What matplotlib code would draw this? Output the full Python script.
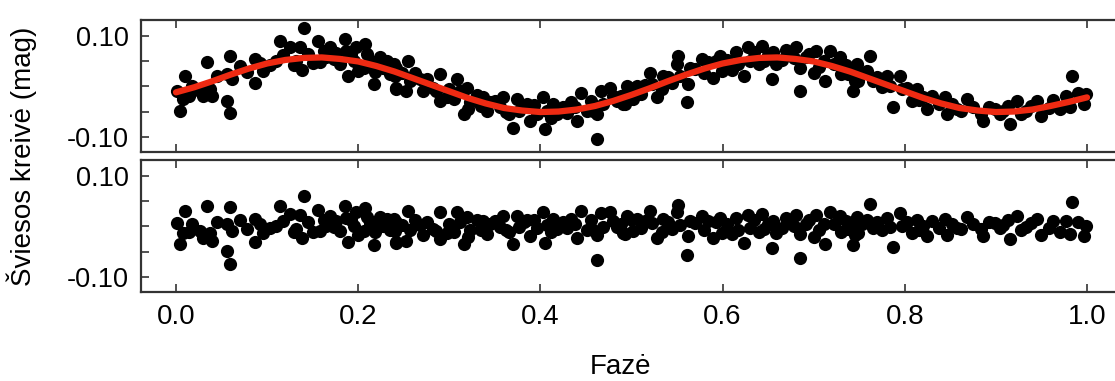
import matplotlib
matplotlib.use("Agg")
import matplotlib.pyplot as plt
from matplotlib import font_manager

# ---------------- data ----------------
phase = [0.001, 0.004, 0.010, 0.008, 0.014, 0.026, 0.034, 0.030, 0.039, 0.037,
         0.056, 0.059, 0.059, 0.056, 0.061, 0.087, 0.087, 0.096, 0.103, 0.110,
         0.114, 0.125, 0.129, 0.136, 0.140, 0.138, 0.132, 0.156, 0.158, 0.162,
         0.169, 0.165, 0.173, 0.186, 0.187, 0.189, 0.195, 0.198, 0.207, 0.206,
         0.213, 0.217, 0.224, 0.227, 0.235, 0.242, 0.242,
         0.239, 0.240, 0.242, 0.255, 0.257, 0.253, 0.268, 0.271, 0.282, 0.290,
         0.290, 0.297, 0.308, 0.312, 0.319, 0.316, 0.323, 0.321, 0.337, 0.341,
         0.345, 0.359, 0.356, 0.365, 0.374, 0.370, 0.377, 0.385, 0.389, 0.396,
         0.403, 0.407, 0.405, 0.414, 0.418, 0.429, 0.434, 0.440, 0.445, 0.451,
         0.462, 0.462, 0.467, 0.469, 0.476, 0.484, 0.495, 0.493,
         0.491, 0.498, 0.502, 0.506, 0.520, 0.522, 0.528, 0.535, 0.533, 0.550,
         0.551, 0.553, 0.561, 0.564, 0.562, 0.577, 0.580, 0.590, 0.593, 0.597,
         0.599, 0.615, 0.617, 0.624, 0.628, 0.630, 0.643, 0.645, 0.654, 0.655,
         0.659, 0.674, 0.681, 0.685, 0.685, 0.692, 0.700, 0.703, 0.711, 0.712,
         0.718, 0.729, 0.730, 0.743, 0.743, 0.749,
         0.747, 0.745, 0.762, 0.758, 0.765, 0.780, 0.784, 0.787, 0.795, 0.797,
         0.808, 0.813, 0.820, 0.824, 0.837, 0.844, 0.846, 0.857, 0.868, 0.875,
         0.884, 0.886, 0.899, 0.904, 0.913, 0.915, 0.923, 0.927, 0.933, 0.945,
         0.950, 0.970, 0.977, 0.983, 0.981, 0.999, 0.997,
         0.018, 0.045, 0.070, 0.078, 0.092, 0.118, 0.145, 0.150, 0.176, 0.180,
         0.192, 0.200, 0.210, 0.218, 0.222, 0.232, 0.248, 0.262, 0.275, 0.285,
         0.300, 0.305, 0.330, 0.335, 0.350, 0.362, 0.382, 0.393, 0.412, 0.425,
         0.438, 0.455, 0.458, 0.480, 0.488, 0.510, 0.515, 0.540, 0.545, 0.570,
         0.584, 0.605, 0.610, 0.635, 0.640, 0.650, 0.665, 0.670, 0.678, 0.695,
         0.706, 0.722, 0.735, 0.738, 0.753, 0.770, 0.775, 0.802, 0.816, 0.830,
         0.852, 0.862, 0.892, 0.908, 0.938, 0.958, 0.963, 0.990]

mag = [-0.009, -0.049, 0.020, -0.026, -0.020, -0.009, 0.047, -0.020, -0.020, -0.006,
       -0.029, -0.052, 0.060, 0.024, 0.014, 0.007, 0.053, 0.030, 0.043, 0.049,
       0.090, 0.077, 0.043, 0.077, 0.116, 0.033, 0.050, 0.090, 0.047, 0.070,
       0.077, 0.057, 0.053, 0.093, 0.070, 0.020, 0.050, 0.077, 0.083, 0.037,
       0.050, 0.004, 0.057, 0.037, 0.024, -0.006, 0.037,
       0.044, 0.020, -0.003, 0.050, 0.010, -0.009, 0.014, -0.009, -0.003, 0.024,
       -0.029, -0.022, 0.014, -0.009, -0.003, -0.055, -0.032, -0.045, -0.022, -0.049,
       -0.032, -0.022, -0.042, -0.055, -0.026, -0.082, -0.049, -0.036, -0.069, -0.055,
       -0.022, -0.049, -0.085, -0.036, -0.055, -0.052, -0.032, -0.069, -0.013, -0.049,
       -0.105, -0.055, -0.009, -0.036, -0.003, -0.029, 0.001, -0.036,
       -0.036, -0.003, -0.026, 0.001, 0.027, 0.004, -0.022, 0.020, -0.006, 0.044,
       0.060, 0.020, -0.032, 0.037, 0.004, 0.053, 0.027, 0.017, 0.050, 0.060,
       0.030, 0.067, 0.044, 0.020, 0.077, 0.050, 0.080, 0.050, 0.014, 0.067,
       0.044, 0.067, 0.077, 0.037, -0.009, 0.057, 0.027, 0.070, 0.050, 0.010,
       0.070, 0.057, 0.024, -0.009, 0.037, 0.010,
       0.044, 0.010, 0.060, 0.030, 0.010, 0.020, 0.000, -0.042, 0.020, -0.006,
       -0.029, -0.006, -0.022, -0.045, -0.036, -0.022, -0.055, -0.045, -0.026, -0.042,
       -0.055, -0.069, -0.045, -0.055, -0.039, -0.075, -0.029, -0.055, -0.049, -0.029,
       -0.059, -0.045, -0.019, 0.020, -0.042, -0.016, -0.036,
       0.000, 0.021, 0.041, 0.028, 0.046, 0.061, 0.064, 0.045, 0.065, 0.044,
       0.063, 0.031, 0.063, 0.029, 0.049, 0.049, 0.026, 0.027, 0.014, -0.010,
       -0.006, -0.025, -0.017, -0.039, -0.029, -0.051, -0.040, -0.038, -0.062, -0.041,
       -0.042, -0.029, -0.048, -0.019, -0.020, -0.015, 0.003, 0.018, 0.007, 0.035,
       0.047, 0.051, 0.033, 0.067, 0.044, 0.061, 0.052, 0.072, 0.055, 0.063,
       0.039, 0.044, 0.042, 0.025, 0.026, 0.019, -0.001, -0.003, -0.028, -0.019,
       -0.035, -0.049, -0.042, -0.049, -0.040, -0.043, -0.027, -0.014]

resid = [0.007, -0.035, 0.030, -0.014, -0.012, -0.009, 0.041, -0.023, -0.029, -0.014,
         -0.049, -0.074, 0.038, 0.004, -0.010, -0.032, 0.014, -0.013, -0.003, 0.000,
         0.040, 0.024, -0.011, 0.022, 0.060, -0.023, -0.005, 0.033, -0.010, 0.013,
         0.021, 0.000, -0.002, 0.040, 0.017, -0.032, 0.000, 0.028, 0.037, -0.009,
         0.007, -0.037, 0.019, 0.001, -0.008, -0.034, 0.009,
         0.014, -0.009, -0.031, 0.031, -0.008, -0.030, 0.003, -0.018, -0.005, 0.028,
         -0.025, -0.014, 0.029, 0.009, 0.019, -0.035, -0.007, -0.021, 0.010, -0.015,
         0.004, 0.021, -0.001, -0.011, 0.021, -0.036, -0.002, 0.013, -0.019, -0.004,
         0.029, 0.002, -0.034, 0.014, -0.005, -0.004, 0.015, -0.023, 0.031, -0.007,
         -0.067, -0.017, 0.027, -0.001, 0.028, -0.002, 0.021, -0.015,
         -0.014, 0.015, -0.010, 0.014, 0.031, 0.007, -0.023, 0.014, -0.011, 0.028,
         0.043, 0.002, -0.056, 0.011, -0.020, 0.020, -0.008, -0.023, 0.009, 0.017,
         -0.014, 0.017, -0.007, -0.033, 0.023, -0.004, 0.024, -0.006, -0.043, 0.010,
         -0.013, 0.012, 0.023, -0.016, -0.062, 0.005, -0.022, 0.022, 0.005, -0.035,
         0.028, 0.021, -0.011, -0.037, 0.009, -0.014,
         0.018, -0.017, 0.044, 0.012, -0.004, 0.016, -0.001, -0.041, 0.026, 0.001,
         -0.014, 0.012, 0.001, -0.020, -0.003, 0.014, -0.018, -0.004, 0.019, 0.005,
         -0.006, -0.020, 0.006, -0.004, 0.012, -0.025, 0.020, -0.007, -0.002, 0.015,
         -0.017, -0.011, 0.011, 0.047, -0.015, 0.001, -0.019,
         0.005, 0.008, 0.012, -0.006, 0.005, 0.010, 0.008, -0.012, 0.010, -0.010,
         0.012, -0.018, 0.018, -0.012, 0.010, 0.015, 0.002, 0.012, 0.008, -0.010,
         0.004, -0.012, 0.012, -0.008, 0.010, -0.008, 0.008, 0.012, -0.012, 0.008,
         0.004, 0.012, -0.008, 0.010, 0.004, -0.004, 0.010, 0.008, -0.006, 0.006,
         0.010, 0.005, -0.015, 0.012, -0.012, 0.004, -0.004, 0.016, 0.000, 0.012,
         -0.008, 0.004, 0.010, -0.006, 0.004, 0.008, -0.008, 0.008, -0.008, 0.010,
         0.004, -0.006, 0.008, 0.002, 0.006, -0.004, 0.010, 0.008]

fit_phase = [0.00, 0.02, 0.04, 0.06, 0.08, 0.10, 0.12, 0.14, 0.16, 0.18,
             0.20, 0.22, 0.24, 0.26, 0.28, 0.30, 0.32, 0.34, 0.36, 0.38,
             0.40, 0.42, 0.44, 0.46, 0.48, 0.50, 0.52, 0.54, 0.56, 0.58,
             0.60, 0.62, 0.64, 0.66, 0.68, 0.70, 0.72, 0.74, 0.76, 0.78,
             0.80, 0.82, 0.84, 0.86, 0.88, 0.90, 0.92, 0.94, 0.96, 0.98, 1.00]
fit_mag = [-0.012, -0.002, 0.010, 0.023, 0.035, 0.045, 0.052, 0.056, 0.057, 0.054,
           0.049, 0.040, 0.029, 0.016, 0.003, -0.010, -0.023, -0.034, -0.043, -0.048,
           -0.051, -0.050, -0.046, -0.039, -0.029, -0.017, -0.004, 0.010, 0.023, 0.035,
           0.045, 0.052, 0.056, 0.057, 0.054, 0.049, 0.040, 0.029, 0.016, 0.003,
           -0.010, -0.023, -0.034, -0.043, -0.048, -0.051, -0.050, -0.046, -0.039, -0.031,
           -0.022]

xticks = [0.0, 0.2, 0.4, 0.6, 0.8, 1.0]
xticklabels = ["0.0", "0.2", "0.4", "0.6", "0.8", "1.0"]
yticks = [-0.10, -0.05, 0.0, 0.05, 0.10]
yticklabels = ["-0.10", "", "", "", "0.10"]

# ---------------- fonts ----------------
avail = {f.name for f in font_manager.fontManager.ttflist}
main_font = "Liberation Sans" if "Liberation Sans" in avail else "DejaVu Sans"
plt.rcParams["font.family"] = [main_font, "DejaVu Sans"]

W, H = 1115, 381
fig = plt.figure(figsize=(W / 100, H / 100), dpi=100)

def px_rect(left, top, right, bottom):
    return [left / W, 1 - bottom / H, (right - left) / W, (bottom - top) / H]

ax1 = fig.add_axes(px_rect(141, 20, 1123, 152))
ax2 = fig.add_axes(px_rect(141, 160, 1123, 292))

spine_col = "#333333"
for ax in (ax1, ax2):
    ax.set_xlim(-0.0384, 1.0395)
    ax.set_ylim(-0.130, 0.131)
    ax.set_xticks(xticks)
    ax.set_yticks(yticks)
    ax.set_yticklabels(yticklabels)
    ax.tick_params(axis="both", direction="in", length=6, width=1.2,
                   color=spine_col, top=True, bottom=True, left=True, right=False)
    ax.tick_params(axis="y", labelsize=19.5, pad=9)
    for s in ax.spines.values():
        s.set_color(spine_col)
        s.set_linewidth(1.6)

ax1.set_xticklabels([])
ax2.set_xticklabels(xticklabels, fontsize=20)
ax2.tick_params(axis="x", pad=9)

ax1.plot(phase, mag, "o", color="black", markersize=9.5, markeredgewidth=0, zorder=2)
ax1.plot(fit_phase, fit_mag, "-", color="#ee2a12", linewidth=4.5,
         solid_capstyle="round", zorder=3)
ax2.plot(phase, resid, "o", color="black", markersize=9.5, markeredgewidth=0, zorder=2)

fig.text(621 / W, 1 - 374 / H, "Fazė", ha="center", va="baseline", fontsize=20)
fig.text(22 / W, 1 - 156 / H, "Šviesos kreivė (mag)", rotation=90,
         ha="center", va="center", fontsize=20)

fig.savefig("out.png", dpi=100)
